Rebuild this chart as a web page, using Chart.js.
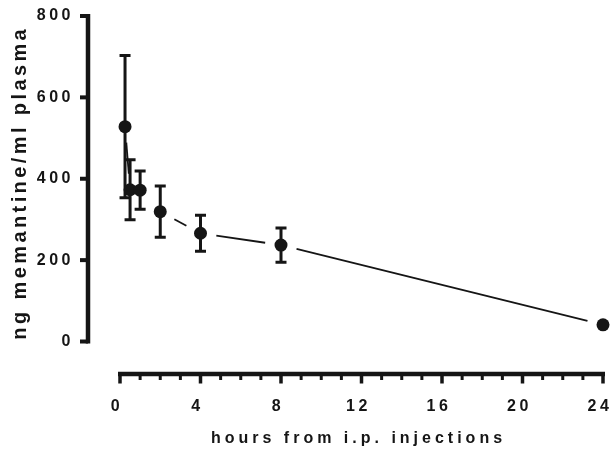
<!DOCTYPE html>
<html>
<head>
<meta charset="utf-8">
<script src="https://cdn.jsdelivr.net/npm/chart.js@4"></script>
<style>
  body { margin: 0; background: #fff; }
  #wrap { width: 612px; height: 450px; }
</style>
</head>
<body>
<div id="wrap"><canvas id="myChart"></canvas></div>
<script>
// hours after injection, mean plasma level and error (ng/ml)
var hours = [0.25, 0.5, 1, 2, 4, 8, 24];
var memantine = [528, 373, 372, 319, 266, 237, 41];
var sem = [175, 74, 47, 63, 44, 42, 0];
var xTicks = [0, 4, 8, 12, 16, 20, 24];
var yTicks = [0, 200, 400, 600, 800];
var xTitle = 'hours from i.p. injections';
var yTitle = 'ng memantine/ml plasma';

var ink = '#151515';
var ctx = document.getElementById("myChart");

// prism style: detached axes, minor ticks, error bars, broken connecting line
const prismPlugin = {
  id: 'prism',
  beforeUpdate(chart) {
    chart.ctx.letterSpacing = '0px';
  },
  beforeDraw(chart) {
    chart.ctx.letterSpacing = '3.5px';
  },
  beforeDatasetsDraw(chart) {
    const c = chart.ctx;
    const xs = chart.scales.x, ys = chart.scales.y;
    const pts = chart.getDatasetMeta(0).data;
    c.save();
    c.strokeStyle = ink;
    // connecting line with gaps round the markers
    c.lineWidth = 1.8;
    const gap = 16;
    for (let i = 0; i < pts.length - 1; i++) {
      const a = pts[i], b = pts[i + 1];
      const dx = b.x - a.x, dy = b.y - a.y;
      const len = Math.sqrt(dx * dx + dy * dy);
      if (len <= gap * 2) continue;
      const ux = dx / len, uy = dy / len;
      c.beginPath();
      c.moveTo(a.x + ux * gap, a.y + uy * gap);
      c.lineTo(b.x - ux * gap, b.y - uy * gap);
      c.stroke();
    }
    // error bars
    c.lineWidth = 3;
    for (let i = 0; i < hours.length; i++) {
      if (!sem[i]) continue;
      const px = xs.getPixelForValue(hours[i]);
      const top = ys.getPixelForValue(memantine[i] + sem[i]);
      const bot = ys.getPixelForValue(memantine[i] - sem[i]);
      c.beginPath();
      c.moveTo(px, top); c.lineTo(px, bot);
      c.moveTo(px - 5.5, top); c.lineTo(px + 5.5, top);
      c.moveTo(px - 5.5, bot); c.lineTo(px + 5.5, bot);
      c.stroke();
    }
    c.restore();
  },
  afterDraw(chart) {
    const c = chart.ctx;
    const xs = chart.scales.x, ys = chart.scales.y;
    const area = chart.chartArea;
    const axX = area.left - 32;
    const axY = area.bottom + 32.5;
    c.save();
    c.strokeStyle = ink;
    c.lineCap = 'butt';
    // y axis
    c.lineWidth = 4.5;
    c.beginPath();
    c.moveTo(axX, ys.getPixelForValue(800) - 2);
    c.lineTo(axX, ys.getPixelForValue(0) + 2);
    c.stroke();
    c.lineWidth = 4;
    yTicks.forEach(function (v) {
      const py = ys.getPixelForValue(v);
      c.beginPath();
      c.moveTo(axX - 8, py); c.lineTo(axX, py);
      c.stroke();
    });
    // x axis
    c.lineWidth = 4.5;
    c.beginPath();
    c.moveTo(xs.getPixelForValue(0) - 2, axY);
    c.lineTo(xs.getPixelForValue(24) + 2, axY);
    c.stroke();
    for (let h = 0; h <= 24; h++) {
      const px = xs.getPixelForValue(h);
      const major = xTicks.indexOf(h) >= 0;
      c.lineWidth = major ? 3.5 : 3;
      c.beginPath();
      c.moveTo(px, axY);
      c.lineTo(px, axY + (major ? 9.5 : 6));
      c.stroke();
    }
    // axis titles
    c.fillStyle = ink;
    c.font = 'bold 16px "Liberation Sans", Arial, sans-serif';
    c.letterSpacing = '4px';
    c.textAlign = 'center';
    c.textBaseline = 'alphabetic';
    c.fillText(xTitle, (area.left + area.right) / 2 - 3, 443);
    c.translate(26, (area.top + area.bottom) / 2 + 4);
    c.rotate(-Math.PI / 2);
    c.font = 'bold 20px "Liberation Sans", Arial, sans-serif';
    c.letterSpacing = '3.4px';
    c.fillText(yTitle, 0, 0);
    c.restore();
  }
};

const datachart = {
  datasets: [{
    label: 'memantine',
    data: hours.map(function (h, i) { return { x: h, y: memantine[i] }; }),
    showLine: false,
    clip: false,
    pointRadius: 6.5,
    pointHoverRadius: 6.5,
    pointBackgroundColor: ink,
    pointBorderColor: ink,
    pointBorderWidth: 0
  }]
};

const config = {
  type: 'scatter',
  data: datachart,
  options: {
    responsive: true,
    maintainAspectRatio: false,
    animation: false,
    layout: { padding: { left: 0, right: 9, top: 16, bottom: 0 } },
    plugins: { legend: { display: false }, tooltip: { enabled: false } },
    scales: {
      x: {
        type: 'linear',
        min: 0,
        max: 24,
        afterFit: function (s) { s.height = 108.5; },
        afterBuildTicks: function (s) { s.ticks = xTicks.map(function (v) { return { value: v }; }); },
        grid: { display: true, drawOnChartArea: false, drawTicks: true, tickLength: 55, color: 'rgba(0,0,0,0)' },
        border: { display: false },
        ticks: {
          padding: 0,
          labelOffset: -3,
          color: ink,
          font: { family: '"Liberation Sans", Arial, sans-serif', size: 16, weight: 'bold' },
          maxRotation: 0
        }
      },
      y: {
        type: 'linear',
        min: 0,
        max: 800,
        afterFit: function (s) { s.width = 120; },
        afterBuildTicks: function (s) { s.ticks = yTicks.map(function (v) { return { value: v }; }); },
        grid: { display: true, drawOnChartArea: false, drawTicks: true, tickLength: 46, color: 'rgba(0,0,0,0)' },
        border: { display: false },
        ticks: {
          padding: 0,
          color: ink,
          font: { family: '"Liberation Sans", Arial, sans-serif', size: 16, weight: 'bold' }
        }
      }
    }
  },
  plugins: [prismPlugin]
};
const myChart = new Chart(ctx, config);
</script>
</body>
</html>
